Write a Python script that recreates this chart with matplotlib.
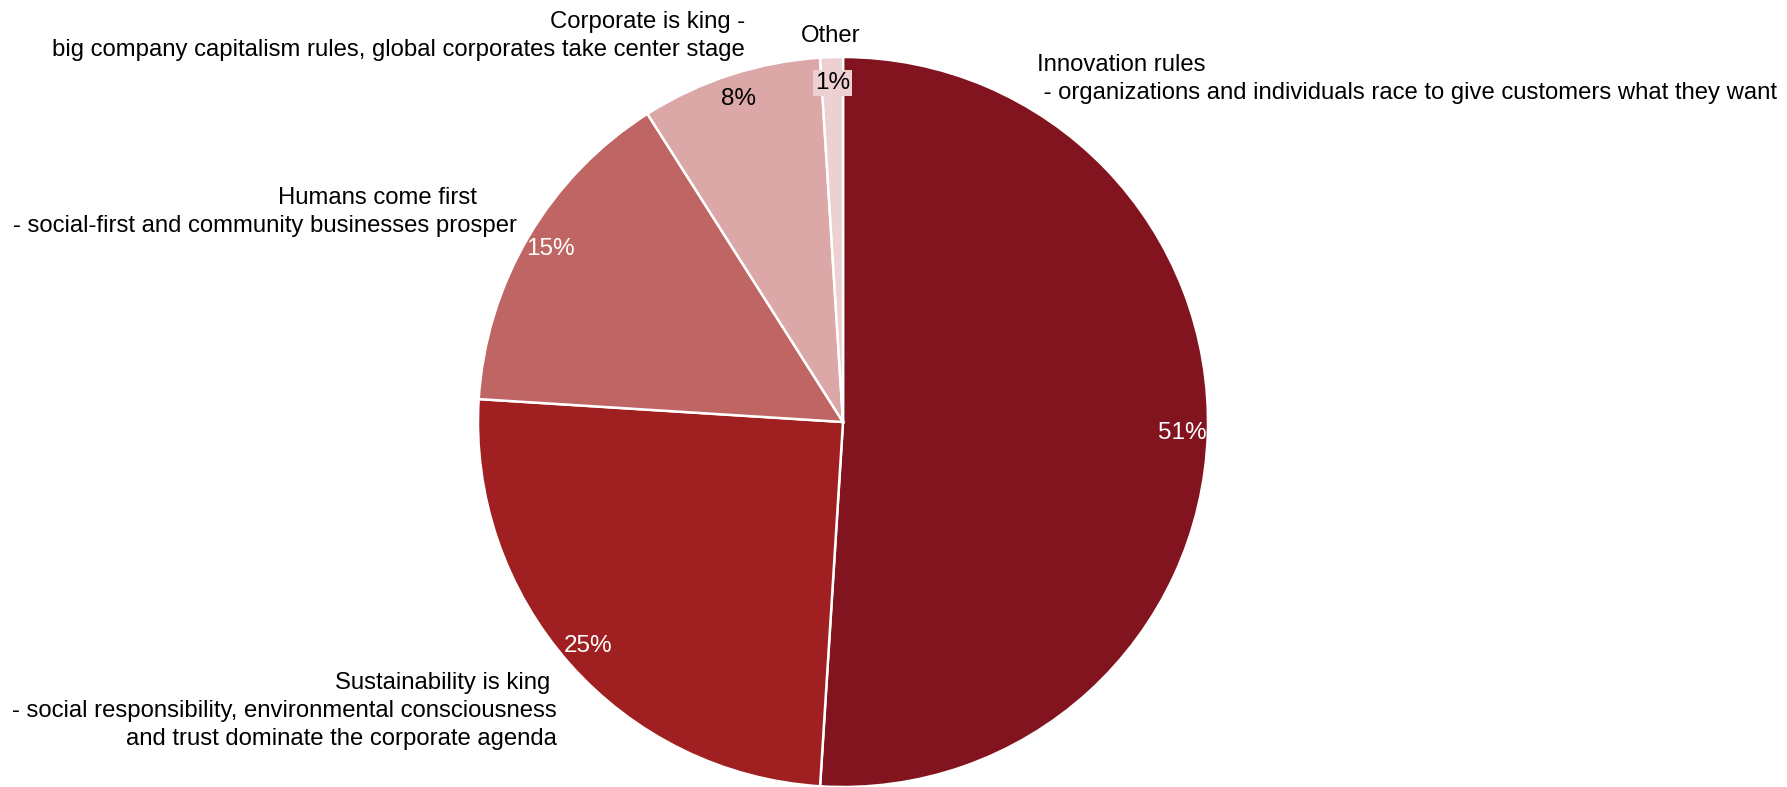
import matplotlib
matplotlib.use("Agg")
import matplotlib.pyplot as plt

plt.rcParams['font.family'] = ['Liberation Sans', 'DejaVu Sans']

# Survey shares (percent), drawn clockwise from 12 o'clock
categories = ["Innovation rules", "Sustainability is king", "Humans come first",
              "Corporate is king", "Other"]
shares = [51, 25, 15, 8, 1]
descriptions = [
    "Innovation rules\n - organizations and individuals race to give customers what they want",
    "Sustainability is king \n- social responsibility, environmental consciousness\nand trust dominate the corporate agenda",
    "Humans come first      \n- social-first and community businesses prosper",
    "Corporate is king -\nbig company capitalism rules, global corporates take center stage",
    "Other",
]
colors = ["#82141F", "#A01F21", "#BF6563", "#DBA7A7", "#EDD0D1"]
pct_text_colors = ["white", "white", "white", "black", "black"]

W, H = 1787, 787
fig = plt.figure(figsize=(W / 100, H / 100), dpi=100)


def fx(px):
    return px / W


def fy(py):
    return 1 - py / H


# Pie axes: center (843, 422) px, radius 365 px
R = 365
cx, cy = 843, 422
ax = fig.add_axes([fx(cx - R), fy(cy + R), 2 * R / W, 2 * R / H])
wedges, texts, autotexts = ax.pie(
    shares, colors=colors, startangle=90, counterclock=False,
    autopct=lambda p: f"{p:.0f}%", pctdistance=0.93,
    wedgeprops=dict(edgecolor="white", linewidth=1.8),
    textprops=dict(fontsize=17.5),
)
ax.set_xlim(-1, 1)
ax.set_ylim(-1, 1)
ax.set_aspect("equal")
ax.axis("off")

for t, c in zip(autotexts, pct_text_colors):
    t.set_color(c)
autotexts[4].set_bbox(dict(facecolor=colors[4], edgecolor="none", pad=1.5))

# Category labels around the pie
fs = 17.2
ls = 1.34
fig.text(fx(1037), fy(54), descriptions[0], ha="left", va="top", fontsize=fs,
         linespacing=ls)
fig.text(fx(557), fy(672), descriptions[1], ha="right", va="top", fontsize=fs,
         linespacing=ls, multialignment="right")
fig.text(fx(517), fy(187), descriptions[2], ha="right", va="top", fontsize=fs,
         linespacing=ls, multialignment="right")
fig.text(fx(745), fy(11), descriptions[3], ha="right", va="top", fontsize=fs,
         linespacing=ls, multialignment="right")
fig.text(fx(831), fy(36), descriptions[4], ha="center", va="center", fontsize=fs)

fig.savefig("out.png", dpi=100, facecolor="white")
